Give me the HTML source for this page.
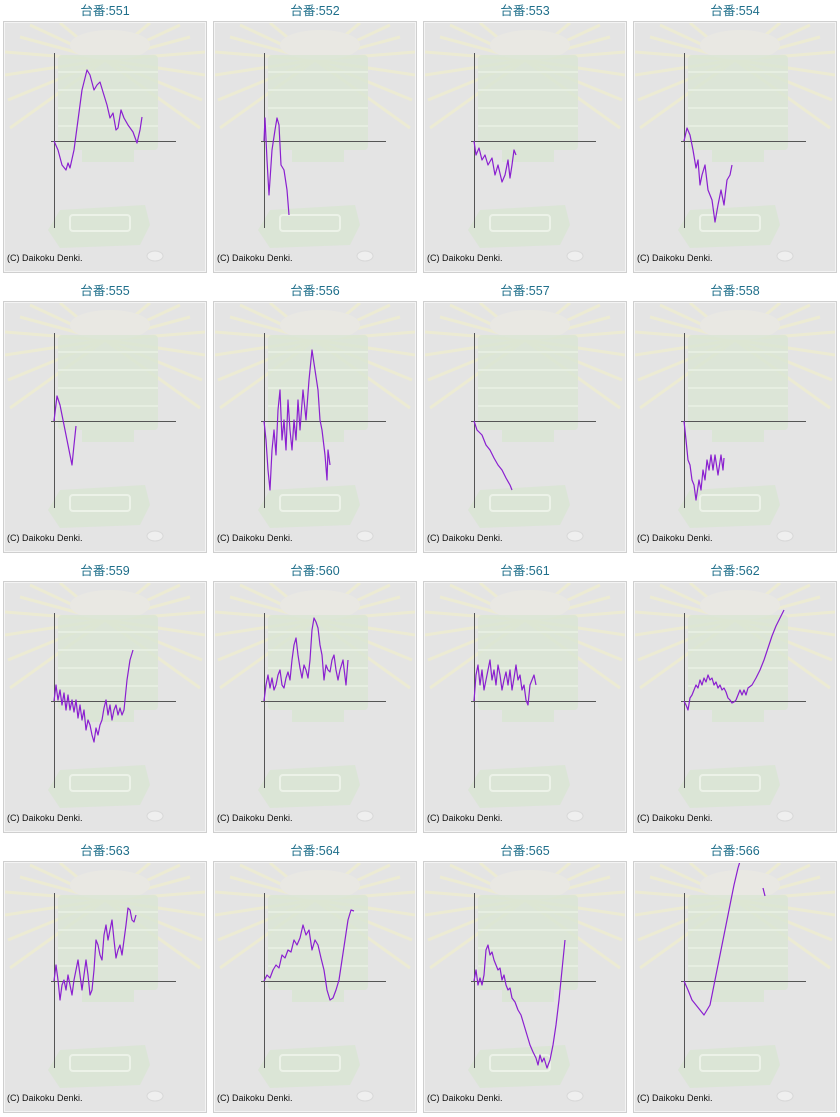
<!DOCTYPE html>
<html><head><meta charset="utf-8"><style>
body{margin:0;background:#fff;width:840px;height:1117px;overflow:hidden}
svg{display:block}
.t{font-family:"Liberation Sans","Noto Sans CJK JP",sans-serif;font-size:12.5px;fill:#1f6f8b;text-anchor:middle}
.c{font-family:"Liberation Sans",sans-serif;font-size:9px;fill:#111}
.l{fill:none;stroke:#8a1fd0;stroke-width:1.2;stroke-linejoin:round}
</style></head><body>
<svg width="840" height="1117" viewBox="0 0 840 1117" xmlns="http://www.w3.org/2000/svg">
<defs>
<clipPath id="cp"><rect x="5" y="23" width="200" height="248"/></clipPath>
<g id="bg">
<rect x="3.5" y="21.5" width="203" height="251" fill="#e4e4e4" stroke="#cfcfcf"/>
<rect x="4.5" y="22.5" width="201" height="249" fill="none" stroke="#f4f4f4"/>
<g clip-path="url(#cp)" stroke="#efedcf" stroke-width="3" opacity="0.8">
<line x1="105" y1="60" x2="5" y2="52"/><line x1="105" y1="60" x2="5" y2="75"/><line x1="105" y1="60" x2="8" y2="100"/><line x1="105" y1="60" x2="10" y2="128"/>
<line x1="105" y1="60" x2="205" y2="52"/><line x1="105" y1="60" x2="205" y2="75"/><line x1="105" y1="60" x2="202" y2="100"/><line x1="105" y1="60" x2="200" y2="128"/>
<line x1="105" y1="60" x2="30" y2="25"/><line x1="105" y1="60" x2="180" y2="25"/><line x1="105" y1="60" x2="60" y2="23"/><line x1="105" y1="60" x2="150" y2="23"/><line x1="105" y1="60" x2="190" y2="37"/><line x1="105" y1="60" x2="20" y2="37"/>
</g>
<ellipse cx="110" cy="45" rx="40" ry="15" fill="#e9e8e3"/>
<rect x="58" y="55" width="100" height="95" rx="4" fill="#d9e5d3" opacity="0.8"/>
<g stroke="#e6eee1" stroke-width="2"><line x1="58" y1="72" x2="158" y2="72"/><line x1="58" y1="90" x2="158" y2="90"/><line x1="58" y1="108" x2="158" y2="108"/><line x1="58" y1="126" x2="158" y2="126"/></g>
<rect x="82" y="150" width="52" height="12" fill="#dbe5d6"/>
<path d="M48 230 L60 210 L145 205 L150 225 L140 245 L60 248 Z" fill="#d9e5d3" opacity="0.85"/>
<rect x="70" y="215" width="60" height="16" rx="3" fill="none" stroke="#ecf2e8" stroke-width="2"/>
<ellipse cx="155" cy="256" rx="8" ry="5" fill="#efefef" stroke="#d8d8d8"/>
<line x1="54.5" y1="53" x2="54.5" y2="228" stroke="#555" stroke-width="1"/>
<line x1="51" y1="141.5" x2="176" y2="141.5" stroke="#555" stroke-width="1"/>
<text class="c" x="7" y="261">(C) Daikoku Denki.</text>
</g>
</defs>

<g transform="translate(0,0)"><text class="t" x="105" y="15">台番:551</text><use href="#bg"/><polyline class="l" points="54,141 58,150 62,165 66,170 68,163 70,168 74,150 78,120 82,90 87,70 90,75 94,90 97,85 100,82 103,92 107,105 110,118 113,113 116,130 118,128 121,110 124,118 128,125 133,132 137,143 140,130 142,117"/></g>
<g transform="translate(210,0)"><text class="t" x="105" y="15">台番:552</text><use href="#bg"/><polyline class="l" points="54,141 55,118 57,160 59,195 62,150 65,130 67,118 69,125 71,165 74,170 77,190 79,215"/></g>
<g transform="translate(420,0)"><text class="t" x="105" y="15">台番:553</text><use href="#bg"/><polyline class="l" points="54,141 56,155 59,148 62,160 65,155 68,165 72,158 75,175 78,165 82,182 85,175 88,160 90,178 92,165 94,150 96,155"/></g>
<g transform="translate(630,0)"><text class="t" x="105" y="15">台番:554</text><use href="#bg"/><polyline class="l" points="54,141 57,128 60,135 63,150 66,168 68,160 70,185 72,175 75,165 78,190 82,200 85,222 88,205 91,190 94,205 97,180 100,175 102,165"/></g>

<g transform="translate(0,280)"><text class="t" x="105" y="15">台番:555</text><use href="#bg"/><polyline class="l" points="54,141 57,116 60,125 63,140 66,155 69,170 72,185 74,165 76,146"/></g>
<g transform="translate(210,280)"><text class="t" x="105" y="15">台番:556</text><use href="#bg"/><polyline class="l" points="54,141 56,160 58,190 60,210 62,170 64,150 66,175 68,130 70,110 72,160 74,140 76,170 78,120 80,150 82,170 84,140 86,160 88,120 90,150 93,110 96,140 99,100 102,70 105,90 108,110 110,140 112,150 115,175 117,200 118,170 120,185"/></g>
<g transform="translate(420,280)"><text class="t" x="105" y="15">台番:557</text><use href="#bg"/><polyline class="l" points="54,141 57,150 62,155 66,165 70,170 74,178 78,185 82,190 86,198 90,205 92,210"/></g>
<g transform="translate(630,280)"><text class="t" x="105" y="15">台番:558</text><use href="#bg"/><polyline class="l" points="54,141 56,160 58,180 60,185 62,200 64,205 66,220 69,200 71,210 73,190 75,200 77,180 79,190 81,175 83,190 85,175 88,195 91,175 93,190 94,178"/></g>

<g transform="translate(0,560)"><text class="t" x="105" y="15">台番:559</text><use href="#bg"/><polyline class="l" points="54,141 56,125 58,140 60,130 62,145 64,133 66,150 68,135 70,150 72,140 74,152 76,140 78,158 80,145 82,160 84,150 86,170 88,160 90,165 92,175 94,182 96,168 98,175 100,165 102,160 104,148 106,140 108,155 110,145 112,160 114,150 116,145 118,155 120,148 122,155 124,150 127,120 130,100 133,90"/></g>
<g transform="translate(210,560)"><text class="t" x="105" y="15">台番:560</text><use href="#bg"/><polyline class="l" points="54,141 56,125 58,115 60,128 62,118 64,130 66,125 68,115 70,110 72,125 74,128 76,118 78,112 80,120 82,100 84,85 86,78 88,95 90,108 92,118 94,105 96,110 98,118 100,100 102,70 104,58 106,62 108,68 110,85 112,95 114,120 116,105 118,110 120,112 122,100 124,95 126,110 128,120 130,110 133,100 136,125 138,100"/></g>
<g transform="translate(420,560)"><text class="t" x="105" y="15">台番:561</text><use href="#bg"/><polyline class="l" points="54,141 56,115 58,105 60,125 62,110 64,130 66,120 68,110 70,100 72,120 74,110 76,125 78,105 80,115 82,130 84,120 86,112 88,125 90,110 92,130 94,118 96,105 98,120 100,115 102,130 104,125 106,140 108,145 110,125 112,120 114,115 116,125"/></g>
<g transform="translate(630,560)"><text class="t" x="105" y="15">台番:562</text><use href="#bg"/><polyline class="l" points="54,141 56,145 58,150 60,138 62,135 64,130 66,125 68,128 70,120 72,125 74,118 76,122 78,115 80,120 82,118 84,125 86,122 88,128 90,125 92,130 94,128 96,132 98,138 100,140 102,143 104,142 106,140 108,135 110,130 112,135 114,130 116,135 118,128 122,125 126,118 130,110 134,100 138,88 142,76 146,66 150,58 154,50"/></g>

<g transform="translate(0,840)"><text class="t" x="105" y="15">台番:563</text><use href="#bg"/><polyline class="l" points="54,141 56,125 58,140 60,160 62,145 64,140 66,150 68,135 70,145 72,155 74,140 76,130 78,120 80,135 82,150 84,135 86,120 88,135 90,155 92,150 94,130 96,100 98,105 100,115 102,120 104,95 106,85 108,100 110,90 112,80 114,100 116,118 118,110 120,105 122,115 124,100 126,85 128,68 130,70 132,80 134,82 136,75"/></g>
<g transform="translate(210,840)"><text class="t" x="105" y="15">台番:564</text><use href="#bg"/><polyline class="l" points="54,141 57,135 60,138 63,130 66,125 69,128 72,115 75,118 78,110 81,112 84,100 87,105 90,98 93,85 96,95 99,90 102,110 105,100 108,105 111,118 114,130 117,150 120,160 123,158 126,150 129,140 132,120 135,100 138,80 141,70 144,71"/></g>
<g transform="translate(420,840)"><text class="t" x="105" y="15">台番:565</text><use href="#bg"/><polyline class="l" points="54,141 56,130 58,145 60,138 62,145 64,135 66,110 68,105 70,115 72,112 74,120 76,125 78,130 80,128 82,140 84,135 86,145 88,150 90,148 92,158 95,162 98,170 101,175 104,185 107,195 110,205 113,212 116,218 118,225 120,215 122,222 124,218 127,228 130,220 133,205 136,185 139,160 142,130 145,100"/></g>
<g transform="translate(630,840)"><text class="t" x="105" y="15">台番:566</text><use href="#bg"/><g clip-path="url(#cp)"><polyline class="l" points="54,141 58,150 62,160 66,165 70,170 74,175 77,170 80,165 84,145 88,125 92,105 96,85 100,65 104,45 108,28 111,18"/><polyline class="l" points="133,48 135,56"/></g></g>
</svg>
</body></html>
